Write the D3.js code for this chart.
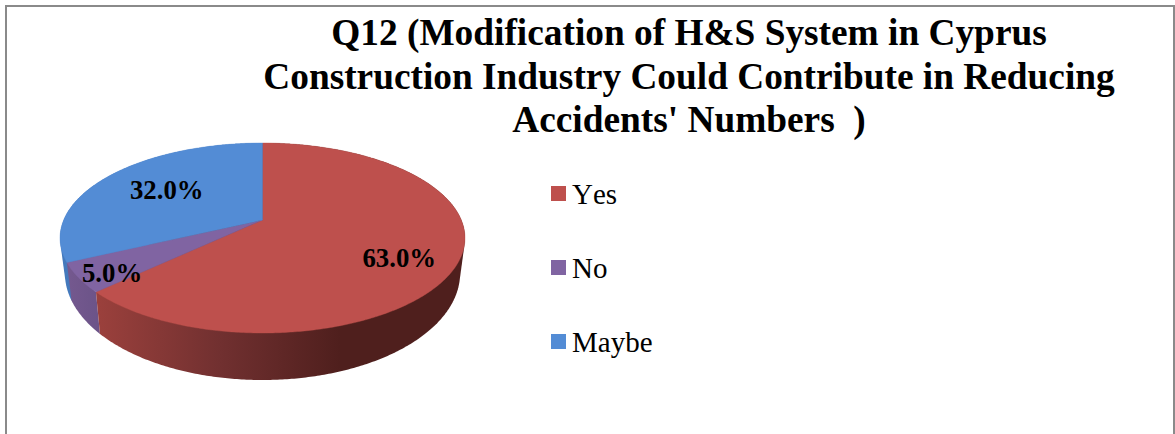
<!DOCTYPE html>
<html>
<head>
<meta charset="utf-8">
<script src="https://cdn.jsdelivr.net/npm/d3@7"></script>
<style>
html,body{margin:0;padding:0;background:#fff;overflow:hidden}
svg{display:block}
text{font-family:"Liberation Serif",serif;fill:#000;font-kerning:none}
</style>
</head>
<body>
<svg id="c" width="1175" height="434"></svg>
<script>
const categories = ["Yes", "No", "Maybe"];
const seriesValues = [63.0, 5.0, 32.0];
const colors = ["#BE504D", "#8064A2", "#538CD5"];
const titleLines = [
  "Q12 (Modification of H&S System in Cyprus",
  "Construction Industry Could Contribute in Reducing",
  "Accidents' Numbers  )"
];

const svg = d3.select("#c");
const defs = svg.append("defs");

// frame: only top, left and right edges are visible
svg.append("path")
  .attr("d", d3.line()([[6, 434], [6, 6], [1174, 6], [1174, 434]]))
  .attr("fill", "none").attr("stroke", "#8a8a8a").attr("stroke-width", 2);

// title
svg.append("g").selectAll("text").data(titleLines).join("text")
  .attr("x", 689)
  .attr("y", (d, i) => 45 + i * 43.5)
  .attr("text-anchor", "middle")
  .attr("font-size", 37.35)
  .attr("font-weight", "bold")
  .style("white-space", "pre")
  .text(d => d);

// perspective projection of the pie disc
const cx = 262.5, k = 198.8, persp = 0.1895, ya = -49.9, yb = 220;
function project(angle, rho) {
  const u = rho * Math.sin(angle), v = rho * Math.cos(angle);
  const w = 1 + persp * v;
  return [cx + k * u / w, (ya * v + yb) / w];
}
function projectBottom(angle) {
  const [x, y] = project(angle, 1);
  return [cx + (x - cx) * 0.976, y + 47 + (y - 333) * 0.125];
}

const pie = d3.pie().sort(null).value(d => d).startAngle(0).endAngle(2 * Math.PI);
const arcs = pie(seriesValues);
const line = d3.line();

function ring(a) {
  const n = Math.max(2, Math.ceil((a.endAngle - a.startAngle) / 0.01));
  return d3.range(n + 1).map(i => a.startAngle + (a.endAngle - a.startAngle) * i / n);
}

// side wall gradients along screen x
const sideStops = [
  [[100, "#9A403C"], [220, "#713030"], [340, "#4F1F1D"], [470, "#4F1F1D"]],
  [[65, "#75598F"], [100, "#6B5388"]],
  [[60, "#4479BC"], [75, "#4479BC"]]
];
sideStops.forEach((stops, i) => {
  const x0 = stops[0][0], x1 = stops[stops.length - 1][0];
  const grad = defs.append("linearGradient").attr("id", "side" + i)
    .attr("gradientUnits", "userSpaceOnUse")
    .attr("x1", x0).attr("x2", x1).attr("y1", 0).attr("y2", 0);
  grad.selectAll("stop").data(stops).join("stop")
    .attr("offset", d => (d[0] - x0) / (x1 - x0))
    .attr("stop-color", d => d[1]);
});

// walls, back to front; each wall is the hull of its top and bottom rims
const sides = svg.append("g");
[2, 1, 0].forEach(idx => {
  const angles = ring(arcs[idx]);
  const hull = d3.polygonHull(angles.map(t => project(t, 1)).concat(angles.map(projectBottom)));
  sides.append("path").attr("d", line(hull) + "Z").attr("fill", `url(#side${idx})`);
});

// top faces
svg.append("g").selectAll("path").data(arcs).join("path")
  .attr("d", a => line([[cx, yb]].concat(ring(a).map(t => project(t, 1)))) + "Z")
  .attr("fill", (a, i) => colors[i])
  .attr("stroke", (a, i) => colors[i])
  .attr("stroke-width", 0.4);

// data labels
const labelOffsets = [[2, 20], [-26, 23], [14, 11]];
svg.append("g").selectAll("text").data(arcs).join("text")
  .attr("x", (a, i) => project((a.startAngle + a.endAngle) / 2, 0.7)[0] + labelOffsets[i][0])
  .attr("y", (a, i) => project((a.startAngle + a.endAngle) / 2, 0.7)[1] + labelOffsets[i][1])
  .attr("text-anchor", "middle")
  .attr("font-size", 26.8)
  .attr("font-weight", "bold")
  .text(a => d3.format(".1f")(a.data) + "%");

// legend
const legendY = d3.scalePoint().domain(categories).range([193.5, 341.5]);
const legend = svg.append("g").selectAll("g").data(categories).join("g");
legend.append("rect")
  .attr("x", 551).attr("y", d => legendY(d) - 7.5)
  .attr("width", 15).attr("height", 15)
  .attr("fill", (d, i) => colors[i]);
legend.append("text")
  .attr("x", 572).attr("y", d => legendY(d) + 10)
  .attr("font-size", 29)
  .text(d => d);
</script>
</body>
</html>
